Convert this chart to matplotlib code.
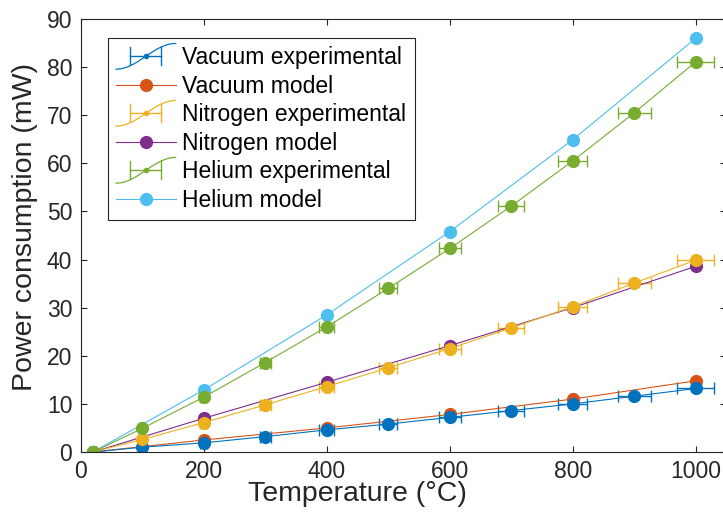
import numpy as np
import matplotlib
matplotlib.use("Agg")
import matplotlib.pyplot as plt
from matplotlib.lines import Line2D
from matplotlib.legend_handler import HandlerBase

plt.rcParams['font.family'] = ['Liberation Sans', 'DejaVu Sans']

# ---- data ----
t_exp = [20, 100, 200, 300, 400, 500, 600, 700, 800, 900, 1000]
t_err = [0.6, 3, 6, 9, 12, 15, 18, 21, 24, 27, 30]
t_mod = [20, 200, 400, 600, 800, 1000]

vac_exp = [0, 1.0, 1.9, 3.2, 4.6, 5.8, 7.2, 8.6, 10.0, 11.6, 13.2]
vac_mod = [0, 2.5, 5.0, 7.8, 11.0, 14.8]
n2_exp = [0, 2.6, 6.1, 9.8, 13.6, 17.5, 21.5, 25.8, 30.2, 35.1, 39.9]
n2_mod = [0, 7.0, 14.5, 22.1, 30.0, 38.6]
he_exp = [0, 4.9, 11.4, 18.6, 26.0, 34.0, 42.3, 51.1, 60.5, 70.5, 81.1]
he_mod = [0, 12.9, 28.5, 45.8, 64.9, 86.0]

c_blue = '#0072BD'
c_orange = '#D95319'
c_yellow = '#EDB120'
c_purple = '#7E2F8E'
c_green = '#77AC30'
c_cyan = '#4DBEEE'
txt = '#262626'


class HandlerSErr(HandlerBase):
    # matlab-ish errorbar legend glyph: s-curve + bar + small dot
    def create_artists(self, legend, orig_handle, xdescent, ydescent,
                       width, height, fontsize, trans):
        col = orig_handle.get_color()
        x0, y0 = -xdescent, -ydescent
        s = np.linspace(0, 1, 40)
        xs = x0 + s * width
        ys = y0 - 0.3 * height + 1.6 * height * (0.5 - 0.5 * np.cos(np.pi * s))
        curve = Line2D(xs, ys, color=col, lw=0.9, transform=trans)
        ym = y0 + height / 2
        xa, xb = x0 + 0.24 * width, x0 + 0.76 * width
        bar = Line2D([xa, xb], [ym, ym], color=col, lw=1.0, transform=trans)
        ch = 0.55 * height
        cap1 = Line2D([xa, xa], [ym - ch, ym + ch], color=col, lw=1.0, transform=trans)
        cap2 = Line2D([xb, xb], [ym - ch, ym + ch], color=col, lw=1.0, transform=trans)
        dot = Line2D([x0 + width / 2], [ym], marker='o', ms=3, color=col,
                     ls='none', transform=trans)
        return [curve, bar, cap1, cap2, dot]


fig = plt.figure(figsize=(7.23, 5.22), dpi=100)
ax = fig.add_axes([0.1116, 0.1341, 0.8932, 0.8295])

ms = 8.5
ax.errorbar(t_exp, vac_exp, xerr=t_err, fmt='o-', color=c_blue, ms=ms,
            lw=0.8, elinewidth=1.0, capsize=4.5, capthick=1.0)
ax.plot(t_mod, vac_mod, 'o-', color=c_orange, ms=ms, lw=0.8)
ax.errorbar(t_exp, n2_exp, xerr=t_err, fmt='o-', color=c_yellow, ms=ms,
            lw=0.8, elinewidth=1.0, capsize=4.5, capthick=1.0)
ax.plot(t_mod, n2_mod, 'o-', color=c_purple, ms=ms, lw=0.8)
ax.errorbar(t_exp, he_exp, xerr=t_err, fmt='o-', color=c_green, ms=ms,
            lw=0.8, elinewidth=1.0, capsize=4.5, capthick=1.0)
ax.plot(t_mod, he_mod, 'o-', color=c_cyan, ms=ms, lw=0.8)

ax.set_xlim(0, 1050)
ax.set_ylim(0, 90)
ax.set_xticks(np.arange(0, 1001, 200))
ax.set_yticks(np.arange(0, 91, 10))
ax.tick_params(direction='in', length=4, width=0.8, colors=txt,
               labelsize=16.5, top=True, right=True, pad=6)
for sp in ax.spines.values():
    sp.set_color(txt)
    sp.set_linewidth(0.8)

ax.set_xlabel('Temperature (°C)', fontsize=20.5, color=txt)
ax.set_ylabel('Power consumption (mW)', fontsize=20.5, color=txt)
ax.xaxis.set_label_coords(0.428, -0.068)
ax.yaxis.set_label_coords(-0.066, 0.52)

# legend
p_vac = Line2D([], [], color=c_blue)
p_n2 = Line2D([], [], color=c_yellow)
p_he = Line2D([], [], color=c_green)
m_vac = Line2D([], [], color=c_orange, marker='o', ms=ms, lw=0.8)
m_n2 = Line2D([], [], color=c_purple, marker='o', ms=ms, lw=0.8)
m_he = Line2D([], [], color=c_cyan, marker='o', ms=ms, lw=0.8)
hs = HandlerSErr()
leg = ax.legend([p_vac, m_vac, p_n2, m_n2, p_he, m_he],
                ['Vacuum experimental', 'Vacuum model', 'Nitrogen experimental',
                 'Nitrogen model', 'Helium experimental', 'Helium model'],
                handler_map={p_vac: hs, p_n2: hs, p_he: hs},
                loc='upper left', bbox_to_anchor=(0.0423, 0.9554),
                borderaxespad=0, fontsize=16.5, fancybox=False, framealpha=1,
                edgecolor='#262626', handlelength=2.6, handletextpad=0.3,
                labelspacing=0.24, borderpad=0.35)
leg.get_frame().set_linewidth(0.8)

fig.savefig('out.png', dpi=100)
